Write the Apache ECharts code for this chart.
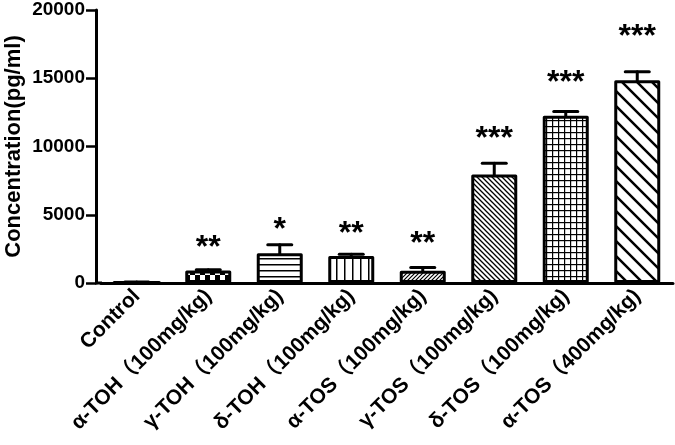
<!DOCTYPE html>
<html>
<head>
<meta charset="utf-8">
<title>Concentration</title>
<script src="https://cdn.jsdelivr.net/npm/echarts@6/dist/echarts.min.js"></script>
<style>
	html, body { margin: 0; padding: 0; background: #fff; }
	#main { width: 675px; height: 445px; }
</style>
</head>
<body>
<div id="main"></div>
<script>
	// data
	var groups = ['Control', 'α-TOH（100mg/kg)', 'γ-TOH（100mg/kg)', 'δ-TOH（100mg/kg)',
		'α-TOS（100mg/kg)', 'γ-TOS（100mg/kg)', 'δ-TOS（100mg/kg)', 'α-TOS（400mg/kg)'];
	var means = [60, 920, 2180, 1980, 900, 7950, 12250, 14850];
	var sems = [20, 50, 620, 120, 230, 830, 320, 620];
	var stars = ['', '**', '*', '**', '**', '***', '***', '***'];
	var starLevels = [0, 3100, 4400, 4070, 3330, 11060, 15160, 18500];
	var yTicks = [0, 5000, 10000, 15000, 20000];
	var patterns = ['plain', 'checker', 'hlines', 'vlines', 'fineUp', 'diagDown', 'grid', 'wideDown'];

	var FONT = "'Liberation Sans', 'Noto Sans CJK SC', sans-serif";

	function makePattern(kind) {
		var c = document.createElement('canvas');
		var s = 6;
		if (kind == 'checker') s = 10;
		if (kind == 'vlines') s = 8;
		if (kind == 'fineUp') s = 4;
		if (kind == 'diagDown') s = 5;
		if (kind == 'wideDown') s = 15;
		c.width = s; c.height = s;
		var ctx = c.getContext('2d');
		ctx.fillStyle = '#fff';
		ctx.fillRect(0, 0, s, s);
		ctx.fillStyle = '#000';
		ctx.strokeStyle = '#000';
		ctx.lineWidth = 1.5;
		if (kind == 'checker') {
			ctx.fillRect(0, 0, 5, 5);
			ctx.fillRect(5, 5, 5, 5);
		} else if (kind == 'hlines') {
			ctx.fillRect(0, 0, s, 1.5);
		} else if (kind == 'vlines') {
			ctx.fillRect(0, 0, 1.5, s);
		} else if (kind == 'grid') {
			ctx.fillRect(0, 0, s, 1.2);
			ctx.fillRect(0, 0, 1.2, s);
		} else if (kind == 'fineUp') {
			ctx.lineWidth = 1.2;
			ctx.beginPath();
			ctx.moveTo(-1, s + 1); ctx.lineTo(s + 1, -1);
			ctx.moveTo(-1, 1); ctx.lineTo(1, -1);
			ctx.moveTo(s - 1, s + 1); ctx.lineTo(s + 1, s - 1);
			ctx.stroke();
		} else if (kind == 'diagDown' || kind == 'wideDown') {
			ctx.lineWidth = kind == 'wideDown' ? 2.5 : 1.3;
			ctx.beginPath();
			ctx.moveTo(-1, -1); ctx.lineTo(s + 1, s + 1);
			ctx.moveTo(s - 2, -2); ctx.lineTo(s + 2, 2);
			ctx.moveTo(-2, s - 2); ctx.lineTo(2, s + 2);
			ctx.stroke();
		}
		return { image: c, repeat: 'repeat' };
	}

	var barData = means.map(function (v, i) {
		return {
			value: v,
			itemStyle: { color: makePattern(patterns[i]) }
		};
	});

	var errData = means.map(function (v, i) {
		return [i, v, sems[i], starLevels[i]];
	});

	var chart = echarts.init(document.getElementById('main'));

	var option = {
		animation: false,
		backgroundColor: '#fff',
		grid: { left: 101, right: 2, top: 10, bottom: 162, containLabel: false, outerBoundsMode: 'none' },
		xAxis: {
			type: 'category',
			data: groups,
			axisLine: { lineStyle: { color: '#000', width: 3 } },
			axisTick: { alignWithLabel: true, length: 9, lineStyle: { color: '#000', width: 2.5 } },
			axisLabel: {
				interval: 0, rotate: 45, margin: 10, color: '#000',
				fontFamily: FONT, fontWeight: 'bold', fontSize: 21
			},
			splitLine: { show: false }
		},
		yAxis: {
			type: 'value',
			min: 0, max: 20000, interval: 5000,
			offset: 5,
			name: 'Concentration(pg/ml)',
			nameLocation: 'middle',
			nameGap: 71,
			nameMoveOverlap: false,
			nameTextStyle: { fontFamily: FONT, fontWeight: 'bold', fontSize: 22, color: '#000' },
			axisLine: { show: true, lineStyle: { color: '#000', width: 3 } },
			axisTick: { show: true, length: 10, lineStyle: { color: '#000', width: 2.5 } },
			axisLabel: {
				margin: 11, color: '#000', fontFamily: FONT, fontWeight: 'bold', fontSize: 19,
				formatter: function (v) { return yTicks.indexOf(v) >= 0 ? String(v) : ''; }
			},
			splitLine: { show: false }
		},
		series: [
			{
				type: 'bar',
				data: barData,
				barWidth: 46,
				itemStyle: { borderColor: '#000', borderWidth: 3, borderJoin: 'round' },
				z: 2
			},
			{
				type: 'custom',
				data: errData,
				z: 3,
				renderItem: function (params, api) {
					var idx = api.value(0);
					var m = api.value(1);
					var e = api.value(2);
					var base = api.coord([idx, m]);
					var tip = api.coord([idx, m + e]);
					var lbl = api.coord([idx, api.value(3)]);
					var style = { stroke: '#000', lineWidth: 3, lineCap: 'round' };
					var children = [
						{ type: 'line', shape: { x1: base[0], y1: base[1], x2: tip[0], y2: tip[1] }, style: style },
						{ type: 'line', shape: { x1: tip[0] - 12, y1: tip[1], x2: tip[0] + 12, y2: tip[1] }, style: style }
					];
					if (stars[idx]) {
						children.push({
							type: 'text',
							style: {
								x: lbl[0], y: lbl[1] + 7,
								text: stars[idx],
								fill: '#000',
								font: 'bold 32px ' + FONT,
								align: 'center', verticalAlign: 'middle'
							}
						});
					}
					return { type: 'group', children: children };
				}
			}
		]
	};

	chart.setOption(option);

	// x axis line runs on to meet the y axis
	var origin = chart.convertToPixel({ yAxisIndex: 0 }, 0);
	chart.setOption({
		graphic: [{
			type: 'line',
			shape: { x1: 95, y1: origin, x2: 102, y2: origin },
			style: { stroke: '#000', lineWidth: 3 }
		}]
	});
</script>
</body>
</html>
